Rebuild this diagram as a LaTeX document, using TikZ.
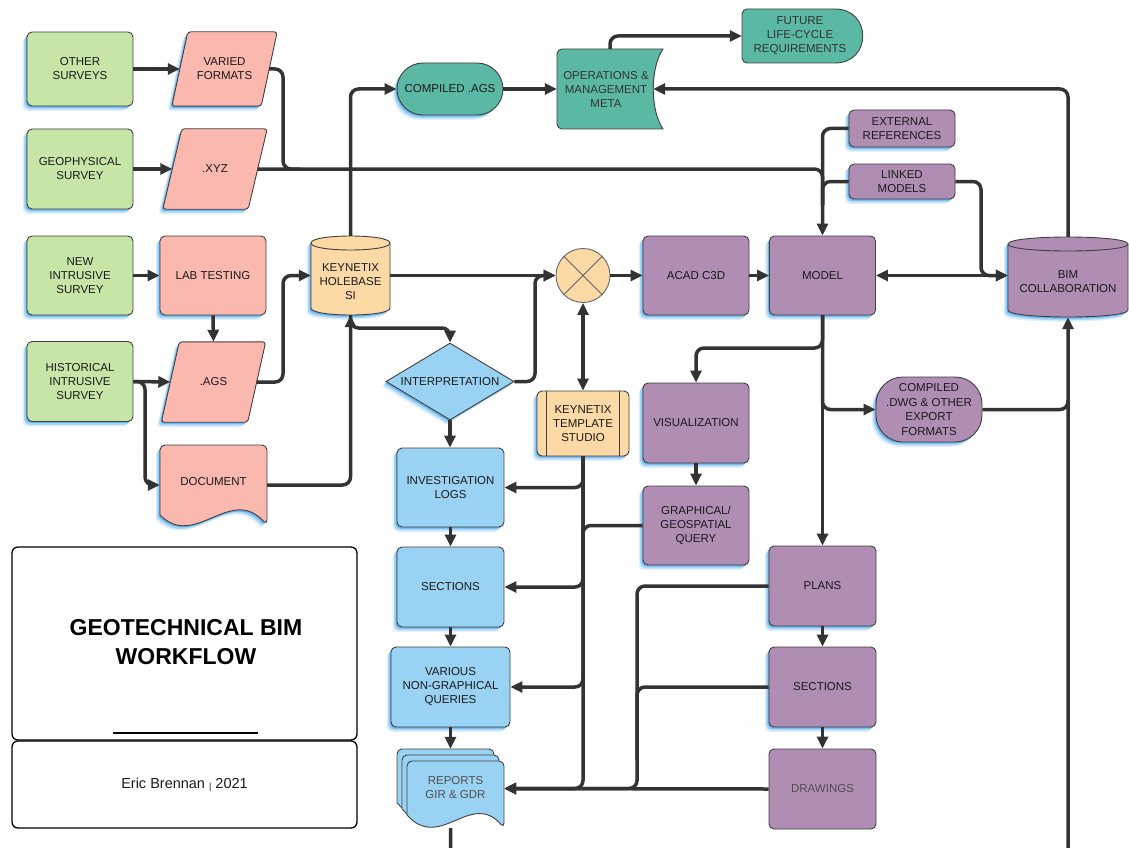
\documentclass[tikz,border=0pt]{standalone}
\usepackage{fontspec}
\setmainfont{Liberation Sans}
\usetikzlibrary{shapes.geometric,arrows.meta,shadows}
\definecolor{cgreen}{HTML}{C6E5A7}
\definecolor{cpink}{HTML}{FAB8AF}
\definecolor{corange}{HTML}{FDD9A6}
\definecolor{cteal}{HTML}{5BB8A5}
\definecolor{cpurple}{HTML}{B08EB4}
\definecolor{cblue}{HTML}{9AD2F3}
\definecolor{bc}{HTML}{404040}
\definecolor{lc}{HTML}{333333}
\definecolor{tc}{HTML}{1A1A1A}
\definecolor{gc}{HTML}{505050}
\definecolor{glowc}{HTML}{1C8FE3}
\pgfdeclarelayer{bg}
\pgfsetlayers{bg,main}
\tikzset{
  fs/.style={font=\fontsize{11.5}{14}\selectfont},
  glow/.style={
    general shadow={fill=glowc, opacity=0.14, shadow xshift=-4.4pt, shadow yshift=-4.8pt},
    general shadow={fill=glowc, opacity=0.26, shadow xshift=-2.9pt, shadow yshift=-3.3pt},
    general shadow={fill=glowc, opacity=0.45, shadow xshift=-1.5pt, shadow yshift=-1.7pt}},
  shp/.style={draw=bc, line width=0.9pt},
  box/.style={shp, rectangle, rounded corners=5pt, align=center, inner sep=1pt, fs, text=tc},
  inv/.style={rectangle, draw=none, fill=none, inner sep=0pt, align=center, fs, text=tc},
  conn/.style={draw=lc, line width=3.5pt, rounded corners=8pt},
  arr/.style={conn, -{Triangle[length=12pt,width=11pt]}},
  darr/.style={conn, {Triangle[length=12pt,width=11pt]}-{Triangle[length=12pt,width=11pt]}},
}
\newcommand\paral[3]{%
  \draw[shp, glow, fill=#3, rounded corners=3pt] ([xshift=#2]#1.north west) -- ([xshift=#2]#1.north east)
    -- ([xshift=-#2]#1.south east) -- ([xshift=-#2]#1.south west) -- cycle;}
\newcommand\cylshape[6]{%
  \draw[shp, glow, fill=#6] (#1,#3+#5) -- (#1,#4-#5) .. controls (#1,#4+0.333*#5) and (#2,#4+0.333*#5) .. (#2,#4-#5)
    -- (#2,#3+#5) .. controls (#2,#3-0.333*#5) and (#1,#3-0.333*#5) .. (#1,#3+#5) -- cycle;
  \draw[shp] (#1,#3+#5) .. controls (#1,#3+2.333*#5) and (#2,#3+2.333*#5) .. (#2,#3+#5);}
\begin{document}
\begin{tikzpicture}[x=1pt,y=-1pt]
\useasboundingbox (0,0) rectangle (1129,848);
\clip (0,0) rectangle (1129,848);

% ---------- green sources
\node[box, fill=cgreen, glow, minimum width=106pt, minimum height=74pt] (os) at (80,69) {OTHER\\SURVEYS};
\node[box, fill=cgreen, glow, minimum width=106pt, minimum height=80pt] (geo) at (80,169) {GEOPHYSICAL\\SURVEY};
\node[box, fill=cgreen, glow, minimum width=106pt, minimum height=79pt] (newi) at (80,275.5) {NEW\\INTRUSIVE\\SURVEY};
\node[box, fill=cgreen, glow, minimum width=106pt, minimum height=80pt] (hist) at (80,381.5) {HISTORICAL\\INTRUSIVE\\SURVEY};

% ---------- pink data
\node[inv, minimum width=89pt, minimum height=74pt] (vf) at (224.5,69) {VARIED\\FORMATS};
\node[inv, minimum width=85pt, minimum height=80pt] (xyz) at (215,169) {.XYZ};
\node[box, fill=cpink, glow, minimum width=106pt, minimum height=79pt] (lab) at (213,275.5) {LAB TESTING};
\node[inv, minimum width=86pt, minimum height=80pt] (ags) at (213.5,382) {.AGS};
\node[inv, minimum width=107pt, minimum height=80pt] (doc) at (213.5,485) {\raisebox{8pt}{DOCUMENT}};

% ---------- holebase
\node[inv, minimum width=79pt, minimum height=79pt] (hb) at (350.5,275.5) {};
\node[inv] (hbt) at (350.5,282) {KEYNETIX\\HOLEBASE\\SI};

% ---------- teal
\node[box, fill=cteal, glow, rounded corners=26pt, minimum width=106pt, minimum height=52pt] (cags) at (450,89) {COMPILED .AGS};
\node[inv, minimum width=106pt, minimum height=80pt] (ops) at (610,89) {};
\node[inv, text=lc] (opst) at (606,89) {OPERATIONS \&\\MANAGEMENT\\META};
\node[inv, minimum width=121pt, minimum height=54pt] (fut) at (802.5,36) {};
\node[inv, text=lc] (futt) at (800,36) {FUTURE\\LIFE-CYCLE\\REQUIREMENTS};

% ---------- purple
\node[box, fill=cpurple, glow, minimum width=106pt, minimum height=37pt] (ext) at (902,128.5) {EXTERNAL\\REFERENCES};
\node[box, fill=cpurple, glow, minimum width=106pt, minimum height=35pt] (lnk) at (902,181.5) {LINKED\\MODELS};
\node[box, fill=cpurple, glow, minimum width=106pt, minimum height=79pt] (acad) at (696,275.5) {ACAD C3D};
\node[box, fill=cpurple, glow, minimum width=106pt, minimum height=79pt] (model) at (822.5,275.5) {MODEL};
\node[inv, minimum width=120pt, minimum height=80pt] (bim) at (1068,277) {};
\node[inv] (bimt) at (1068,282) {BIM\\COLLABORATION};
\node[box, fill=cpurple, glow, minimum width=106pt, minimum height=80pt] (vis) at (696,423) {VISUALIZATION};
\node[box, fill=cpurple, glow, minimum width=106pt, minimum height=79pt] (gq) at (696,525.5) {GRAPHICAL/\\GEOSPATIAL\\QUERY};
\node[box, fill=cpurple, glow, rounded corners=27pt, minimum width=106pt, minimum height=65pt, font=\fontsize{11.5}{14.5}\selectfont] (dwg) at (929,409.5) {COMPILED\\.DWG \& OTHER\\EXPORT\\FORMATS};
\node[box, fill=cpurple, glow, minimum width=107pt, minimum height=80pt] (plans) at (822.5,586) {PLANS};
\node[box, fill=cpurple, glow, minimum width=107pt, minimum height=80pt] (sec2) at (822.5,687) {SECTIONS};
\node[box, fill=cpurple, text=gc, minimum width=107pt, minimum height=80pt] (drw) at (822.5,789) {DRAWINGS};

% ---------- orange
\node[shp, circle, fill=corange, draw=gray!80!black, minimum size=54pt, inner sep=0pt] (circ) at (583,275.5) {};
\draw[draw=gray!80!black, line width=0.9pt] (circ.north west) -- (circ.south east) (circ.north east) -- (circ.south west);
\node[box, fill=corange, glow, minimum width=92pt, minimum height=65pt] (tmpl) at (583,423.5) {KEYNETIX\\TEMPLATE\\STUDIO};
\draw[shp] ([xshift=10pt]tmpl.north west) -- ([xshift=10pt]tmpl.south west)
           ([xshift=-10pt]tmpl.north east) -- ([xshift=-10pt]tmpl.south east);

% ---------- blue
\node[shp, diamond, fill=cblue, glow, aspect=1.66, minimum width=128pt, minimum height=77pt, inner sep=0pt, fs, text=tc] (interp) at (450,381.5) {INTERPRETATION};
\node[box, fill=cblue, glow, minimum width=107pt, minimum height=79pt] (inv) at (450.5,487.5) {INVESTIGATION\\LOGS};
\node[box, fill=cblue, glow, minimum width=107pt, minimum height=80pt] (sec1) at (450.5,587) {SECTIONS};
\node[box, fill=cblue, glow, minimum width=119pt, minimum height=80pt] (vq) at (450.5,687) {VARIOUS\\NON-GRAPHICAL\\QUERIES};
\node[inv, minimum width=107pt, minimum height=79pt] (rep) at (450.5,788.5) {};
\node[inv, text=gc] (rept) at (455.5,788) {REPORTS\\GIR \& GDR};

% ---------- background shapes
\begin{pgfonlayer}{bg}
\paral{vf}{8pt}{cpink}
\paral{xyz}{9.5pt}{cpink}
\paral{ags}{9pt}{cpink}
\draw[shp, glow, fill=cpink] (160,515) [rounded corners=5pt] -- (160,445) -- (267,445) -- (267,525) [sharp corners]
   .. controls (230,485) and (195,550) .. (160,515) -- cycle;
\cylshape{311}{390}{236}{315}{7}{corange}
\cylshape{1008}{1128}{237}{317}{7}{cpurple}
\draw[shp, fill=cteal] (610,49) [rounded corners=5pt] -- (557,49) -- (557,129) -- (610,129) [sharp corners] -- (663,129)
   .. controls (650,110) and (650,68) .. (663,49) -- cycle;
\draw[shp, fill=cteal] (835,9) [rounded corners=5pt] -- (742,9) -- (742,63) -- (800,63) [sharp corners] -- (835,63)
   .. controls (872,63) and (872,9) .. (835,9) -- cycle;
\foreach \dx/\dy in {-10/-12,-5/-6,0/0}{
  \draw[shp, fill=cblue] (407+\dx,815+\dy) [rounded corners=5pt] -- (407+\dx,761+\dy) -- (504+\dx,761+\dy) -- (504+\dx,828+\dy) [sharp corners]
    .. controls (471+\dx,790+\dy) and (440+\dx,852+\dy) .. (407+\dx,815+\dy) -- cycle;
}
\end{pgfonlayer}

% ---------- title block
\node[draw=black, line width=1.3pt, rounded corners=6pt, minimum width=345pt, minimum height=193pt] (tb) at (184.5,643.5) {};
\node[align=center, font=\bfseries\fontsize{23}{29}\selectfont, text=black] (title) at (186,642) {GEOTECHNICAL BIM\\WORKFLOW};
\draw[line width=1.3pt] (113,733) -- (258,733);
\node[draw=black, line width=1.3pt, rounded corners=6pt, minimum width=345pt, minimum height=87pt, font=\fontsize{14.5}{16}\selectfont, text=tc] (ab) at (184.5,784.5) {Eric Brennan \raisebox{-0.5pt}{\fontsize{9}{9}\selectfont|} 2021};

% ---------- connectors
\draw[arr] (os.east) -- (vf.west);
\draw[arr] (geo.east) -- (xyz.west);
\draw[conn] (vf.east) -- (283,69) -- (283,169) -- (300,169);
\draw[arr] (xyz.east) -- (822.5,169) -- (model.north);
\draw[conn] (ext.west) -- (822.5,128.5) -- (822.5,205);
\draw[conn] (lnk.west) -- (822.5,181.5) -- (822.5,205);
\draw[arr] (lnk.east) -- (981,181.5) -- (981,275.5) -- (model.east -| bim.west);
\draw[darr] (model.east) -- (model.east -| bim.west);
\draw[arr] (bim.north) -- (1068,89) -- ([xshift=-10pt]ops.east);
\draw[arr] (hb.north) -- (350.5,89) -- (cags.west);
\draw[arr] (cags.east) -- (ops.west);
\draw[arr] (ops.north) -- (610,36) -- (fut.west);

\draw[arr] (newi.east) -- (lab.west);
\draw[arr] (lab.south) -- (ags.north);
\draw[arr] (hist.east) -- (ags.west);
\draw[arr] (hist.east) -- (145,381.5) -- (145,485) -- (doc.west);
\draw[arr] (ags.east) -- (283,382) -- (283,275.5) -- (hb.west);
\draw[arr] (doc.east) -- (350.5,485) -- (hb.south);
\draw[arr] (hb.south) -- (350.5,328) -- (450,328) -- (interp.north);
\draw[arr] (hb.east) -- (circ.west);
\draw[arr] (interp.east) -- (535,381.5) -- (535,275.5) -- (circ.west);
\draw[arr] (circ.east) -- (acad.west);
\draw[arr] (acad.east) -- (model.west);
\draw[darr] (circ.south) -- (tmpl.north);

\draw[arr] (interp.south) -- (interp.south |- inv.north);
\draw[arr] (inv.south) -- (sec1.north);
\draw[arr] (sec1.south) -- (vq.north);
\draw[arr] (vq.south) -- (rep.north);

\draw[arr] (tmpl.south) -- (583,487.5) -- (inv.east);
\draw[arr] (tmpl.south) -- (583,587) -- (sec1.east);
\draw[arr] (tmpl.south) -- (583,687) -- (vq.east);
\draw[arr] (tmpl.south) -- (583,788.5) -- (rep.east);
\draw[conn] (gq.west) -- (583,525.5) -- (583,570);

\draw[arr] (vis.south) -- (gq.north);
\draw[arr] (model.south) -- (822.5,348) -- (696,348) -- (vis.north);
\draw[arr] (model.south) -- (plans.north);
\draw[arr] (model.south) -- (822.5,409.5) -- (dwg.west);
\draw[arr] (dwg.east) -- (1068,409.5) -- (bim.south);
\draw[conn] (rep.south) -- (450.5,856) -- (1068,856) -- (1068,400);

\draw[arr] (plans.west) -- (637,586) -- (637,788.5) -- (rep.east);
\draw[conn] (sec2.west) -- (637,687) -- (637,760);
\draw[arr] (drw.west) -- (rep.east);
\draw[arr] (plans.south) -- (sec2.north);
\draw[arr] (sec2.south) -- (drw.north);
\end{tikzpicture}
\end{document}
